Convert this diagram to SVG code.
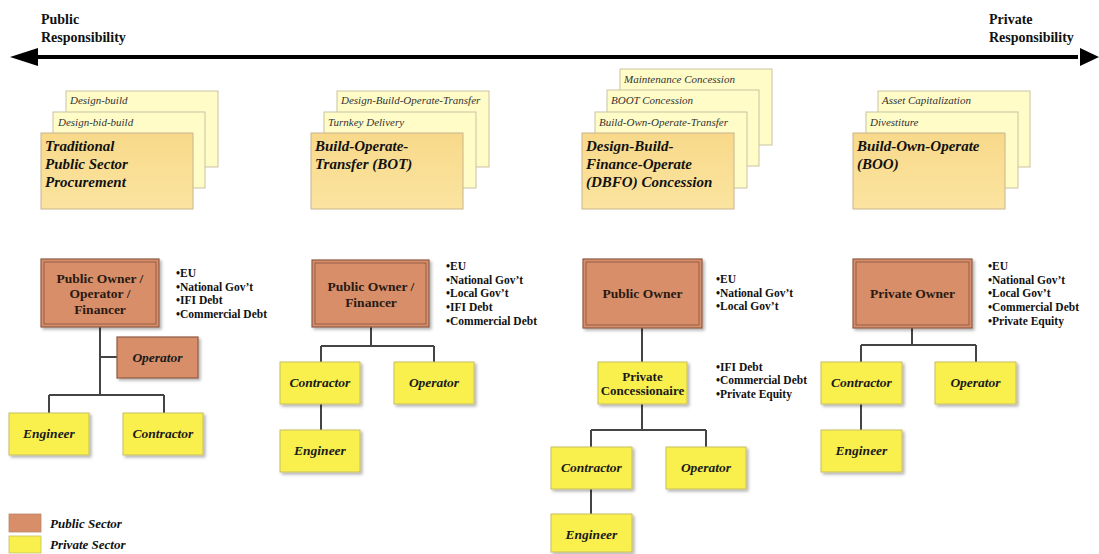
<svg xmlns="http://www.w3.org/2000/svg" width="1099" height="554" viewBox="0 0 1099 554" font-family="'Liberation Serif','DejaVu Serif',serif">
<defs>
<filter id="sh" x="-20%" y="-20%" width="150%" height="150%">
<feDropShadow dx="2" dy="2" stdDeviation="1.5" flood-color="#000" flood-opacity="0.3"/>
</filter>
<linearGradient id="gFront" x1="0" y1="0" x2="0" y2="1">
<stop offset="0" stop-color="#f8d98a"/><stop offset="1" stop-color="#fbe4a0"/>
</linearGradient>
</defs>
<style>
text{font-family:'Liberation Serif','DejaVu Serif',serif;}
.hdr{font-size:14px;font-weight:bold;fill:#111;}
.back{fill:#fffcc8;stroke:#c9c3a2;stroke-width:1;}
.front{fill:url(#gFront);stroke:#c8b48e;stroke-width:1;}
.sub{font-size:11px;font-style:italic;fill:#333;}
.title{font-size:15px;font-style:italic;font-weight:bold;fill:#111;}
.pub{fill:#d78e69;stroke:#8e5a44;stroke-width:1.2;}
.pubin{fill:none;stroke:#8e5a44;stroke-width:0.9;}
.pt{font-size:13.5px;font-weight:bold;fill:#2a1a12;text-anchor:middle;}
.pc{font-size:13px;font-weight:bold;fill:#1a1a1a;text-anchor:middle;}
.prv{fill:#f9f04e;stroke:#c6bd62;stroke-width:1;}
.it{font-size:13.5px;font-style:italic;font-weight:bold;fill:#1a1a1a;text-anchor:middle;}
.bl{font-size:11.5px;font-weight:bold;fill:#111;}
.ln{stroke:#444;stroke-width:2;fill:none;}
.lg{font-size:13px;font-style:italic;font-weight:bold;fill:#111;}
</style>

<!-- Header axis -->
<g id="axis">
<line x1="34" y1="57" x2="1078" y2="57" stroke="#000" stroke-width="4"/>
<polygon points="10,57 38,48 38,66" fill="#000"/>
<polygon points="1099,57 1080,48 1080,66" fill="#000"/>
<text class="hdr" x="41" y="24">Public</text>
<text class="hdr" x="41" y="42">Responsibility</text>
<text class="hdr" x="989" y="24">Private</text>
<text class="hdr" x="989" y="42">Responsibility</text>
</g>

<!-- Card stacks -->
<g id="stack1">
<rect class="back" x="66" y="91" width="152" height="76"/>
<text class="sub" x="70" y="104">Design-build</text>
<rect class="back" x="53" y="112" width="152" height="76"/>
<text class="sub" x="58" y="126">Design-bid-build</text>
<rect class="front" x="41" y="133" width="152" height="76"/>
<text class="title" x="45" y="151">Traditional</text>
<text class="title" x="45" y="169">Public Sector</text>
<text class="title" x="45" y="187">Procurement</text>
</g>

<g id="stack2">
<rect class="back" x="337" y="91" width="152" height="76"/>
<text class="sub" x="341" y="104">Design-Build-Operate-Transfer</text>
<rect class="back" x="324" y="112" width="152" height="76"/>
<text class="sub" x="328" y="126">Turnkey Delivery</text>
<rect class="front" x="311" y="133" width="152" height="76"/>
<text class="title" x="315" y="151">Build-Operate-</text>
<text class="title" x="315" y="169">Transfer (BOT)</text>
</g>

<g id="stack3">
<rect class="back" x="620" y="69" width="152" height="76"/>
<text class="sub" x="624" y="83">Maintenance Concession</text>
<rect class="back" x="607" y="90" width="152" height="76"/>
<text class="sub" x="611" y="104">BOOT Concession</text>
<rect class="back" x="595" y="112" width="152" height="76"/>
<text class="sub" x="599" y="126">Build-Own-Operate-Transfer</text>
<rect class="front" x="582" y="133" width="152" height="76"/>
<text class="title" x="586" y="151">Design-Build-</text>
<text class="title" x="586" y="169">Finance-Operate</text>
<text class="title" x="586" y="187">(DBFO) Concession</text>
</g>

<g id="stack4">
<rect class="back" x="878" y="91" width="152" height="76"/>
<text class="sub" x="882" y="104">Asset Capitalization</text>
<rect class="back" x="866" y="112" width="152" height="76"/>
<text class="sub" x="870" y="126">Divestiture</text>
<rect class="front" x="853" y="133" width="152" height="76"/>
<text class="title" x="857" y="151">Build-Own-Operate</text>
<text class="title" x="857" y="169">(BOO)</text>
</g>

<!-- Connectors -->
<g id="connectors">
<path class="ln" d="M100,327 V395 M100,357 H117 M49,395 H164 M49,395 V413 M164,395 V413"/>
<path class="ln" d="M371,327 V346 M321,346 H434 M321,346 V362 M434,346 V362 M321,404 V430"/>
<path class="ln" d="M642,328 V362 M642,404 V430 M591,430 H706 M591,430 V447 M706,430 V447 M591,489 V514"/>
<path class="ln" d="M912,328 V345 M861,345 H976 M861,345 V362 M976,345 V362 M861,404 V430"/>
</g>

<!-- Column 1 -->
<g id="owner1">
<rect class="pub" x="41" y="259" width="118" height="68" filter="url(#sh)"/>
<rect class="pubin" x="44" y="262" width="112" height="62"/>
<text class="pt" x="100" y="283">Public Owner /</text>
<text class="pt" x="100" y="298">Operator /</text>
<text class="pt" x="100" y="314">Financer</text>
</g>
<g id="fund1">
<text class="bl" x="176" y="277">•EU</text>
<text class="bl" x="176" y="291">•National Gov’t</text>
<text class="bl" x="176" y="304">•IFI Debt</text>
<text class="bl" x="176" y="318">•Commercial Debt</text>
</g>
<g id="operator1">
<rect class="pub" x="117" y="337" width="81" height="41" filter="url(#sh)"/>
<text class="it" x="157.5" y="362">Operator</text>
</g>
<g id="engineer1">
<rect class="prv" x="9" y="413" width="80" height="42" filter="url(#sh)"/>
<text class="it" x="49" y="438">Engineer</text>
</g>
<g id="contractor1">
<rect class="prv" x="123" y="413" width="80" height="42" filter="url(#sh)"/>
<text class="it" x="163" y="438">Contractor</text>
</g>

<!-- Column 2 -->
<g id="owner2">
<rect class="pub" x="312" y="260" width="117" height="67" filter="url(#sh)"/>
<rect class="pubin" x="315" y="263" width="111" height="61"/>
<text class="pt" x="371" y="291">Public Owner /</text>
<text class="pt" x="371" y="307">Financer</text>
</g>
<g id="fund2">
<text class="bl" x="446" y="270">•EU</text>
<text class="bl" x="446" y="284">•National Gov’t</text>
<text class="bl" x="446" y="297">•Local Gov’t</text>
<text class="bl" x="446" y="311">•IFI Debt</text>
<text class="bl" x="446" y="325">•Commercial Debt</text>
</g>
<g id="contractor2">
<rect class="prv" x="280" y="362" width="80" height="42" filter="url(#sh)"/>
<text class="it" x="320" y="387">Contractor</text>
</g>
<g id="operator2">
<rect class="prv" x="394" y="362" width="80" height="42" filter="url(#sh)"/>
<text class="it" x="434" y="387">Operator</text>
</g>
<g id="engineer2">
<rect class="prv" x="280" y="430" width="80" height="42" filter="url(#sh)"/>
<text class="it" x="320" y="455">Engineer</text>
</g>

<!-- Column 3 -->
<g id="owner3">
<rect class="pub" x="583" y="259" width="119" height="69" filter="url(#sh)"/>
<rect class="pubin" x="586" y="262" width="113" height="63"/>
<text class="pt" x="642.5" y="298">Public Owner</text>
</g>
<g id="fund3">
<text class="bl" x="716" y="283">•EU</text>
<text class="bl" x="716" y="297">•National Gov’t</text>
<text class="bl" x="716" y="310">•Local Gov’t</text>
</g>
<g id="concessionaire">
<rect class="prv" x="598" y="362" width="89" height="42" filter="url(#sh)"/>
<text class="pc" x="642.5" y="381">Private</text>
<text class="pc" x="642.5" y="395">Concessionaire</text>
</g>
<g id="fund3b">
<text class="bl" x="716" y="371">•IFI Debt</text>
<text class="bl" x="716" y="384">•Commercial Debt</text>
<text class="bl" x="716" y="398">•Private Equity</text>
</g>
<g id="contractor3">
<rect class="prv" x="551" y="447" width="81" height="42" filter="url(#sh)"/>
<text class="it" x="591.5" y="472">Contractor</text>
</g>
<g id="operator3">
<rect class="prv" x="666" y="447" width="80" height="42" filter="url(#sh)"/>
<text class="it" x="706" y="472">Operator</text>
</g>
<g id="engineer3">
<rect class="prv" x="551" y="514" width="81" height="38" filter="url(#sh)"/>
<text class="it" x="591.5" y="539">Engineer</text>
</g>

<!-- Column 4 -->
<g id="owner4">
<rect class="pub" x="853" y="259" width="119" height="69" filter="url(#sh)"/>
<rect class="pubin" x="856" y="262" width="113" height="63"/>
<text class="pt" x="912.5" y="298">Private Owner</text>
</g>
<g id="fund4">
<text class="bl" x="988" y="270">•EU</text>
<text class="bl" x="988" y="284">•National Gov’t</text>
<text class="bl" x="988" y="297">•Local Gov’t</text>
<text class="bl" x="988" y="311">•Commercial Debt</text>
<text class="bl" x="988" y="325">•Private Equity</text>
</g>
<g id="contractor4">
<rect class="prv" x="821" y="362" width="81" height="42" filter="url(#sh)"/>
<text class="it" x="861.5" y="387">Contractor</text>
</g>
<g id="operator4">
<rect class="prv" x="935" y="362" width="81" height="42" filter="url(#sh)"/>
<text class="it" x="975.5" y="387">Operator</text>
</g>
<g id="engineer4">
<rect class="prv" x="821" y="430" width="81" height="42" filter="url(#sh)"/>
<text class="it" x="861.5" y="455">Engineer</text>
</g>

<!-- Legend -->
<g id="legend">
<rect x="9" y="514" width="32" height="18" fill="#d78e69" stroke="#b8876c" stroke-width="0.8"/>
<rect x="9" y="536" width="32" height="17" fill="#f9f04e" stroke="#c6bd62" stroke-width="0.8"/>
<text class="lg" x="50" y="528">Public Sector</text>
<text class="lg" x="50" y="549">Private Sector</text>
</g>
</svg>
